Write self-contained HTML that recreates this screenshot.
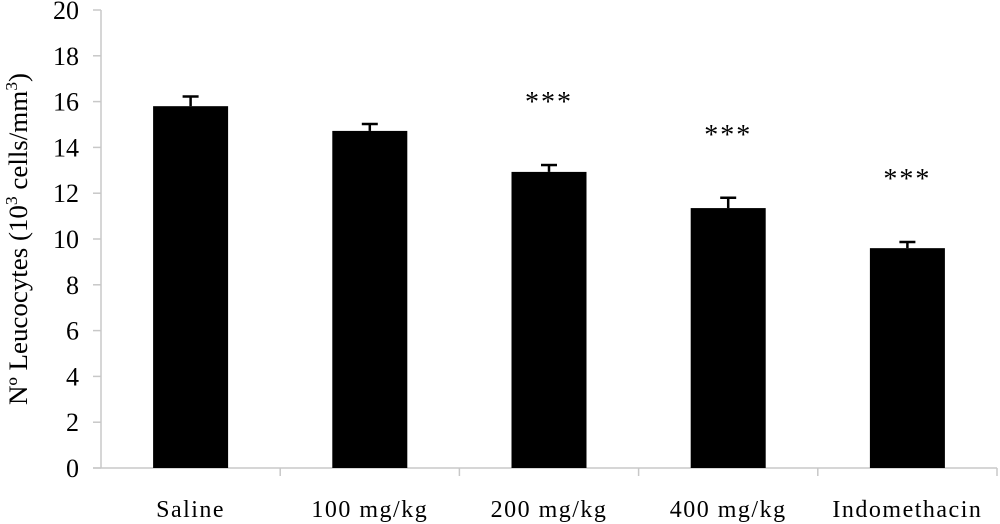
<!DOCTYPE html>
<html><head><meta charset="utf-8"><style>
body{margin:0;background:#fff;}
svg{display:block;font-family:"Liberation Serif",serif;}
</style></head><body>
<svg id="chart" width="1000" height="524">
<g id="axes"></g><g id="bars"></g>
<text transform="translate(27,239) rotate(-90)" text-anchor="middle" font-size="26" textLength="332" lengthAdjust="spacingAndGlyphs">Nº Leucocytes (10<tspan dy="-10" font-size="17">3</tspan><tspan dy="10"> cells/mm</tspan><tspan dy="-10" font-size="17">3</tspan><tspan dy="10">)</tspan></text>
</svg>
<script>
const categories=["Saline","100 mg/kg","200 mg/kg","400 mg/kg","Indomethacin"];
const values=[15.8,14.72,12.93,11.35,9.6];
const errors=[0.42,0.3,0.3,0.45,0.27];
const sig=["","","***","***","***"];
const yTicks=[0,2,4,6,8,10,12,14,16,18,20];
const NS="http://www.w3.org/2000/svg";
const x0=101,x1=997,yTop=10,yBot=468,yMax=20;
const bw=(x1-x0)/categories.length;
const y=v=>yBot-(v/yMax)*(yBot-yTop);
const xc=i=>x0+bw*(i+0.5);
function mk(tag,attrs,parent,txt){const e=document.createElementNS(NS,tag);for(const k in attrs)e.setAttribute(k,attrs[k]);if(txt!==undefined)e.textContent=txt;parent.appendChild(e);return e;}
const ax=document.getElementById('axes'),bg=document.getElementById('bars');
let e=mk('line',{x1:x0,y1:yTop,x2:x0,y2:yBot,stroke:'#c8c8c8','stroke-width':1.5},ax);


e=mk('line',{x1:93,y1:yBot,x2:x1,y2:yBot,stroke:'#c8c8c8','stroke-width':1.5},ax);


yTicks.forEach(t=>{
 mk('line',{x1:93,y1:y(t),x2:x0,y2:y(t),stroke:'#c8c8c8','stroke-width':1.5},ax);
 const l=mk('text',{x:79,y:y(t)+9,'text-anchor':'end','font-size':26},ax,t);
 
 
});
for(let i=1;i<=categories.length;i++){mk('line',{x1:x0+bw*i,y1:yBot,x2:x0+bw*i,y2:yBot+8,stroke:'#c8c8c8','stroke-width':1.5},ax);}
categories.forEach((c,i)=>{
 const cx=xc(i);
 const r=mk('rect',{x:cx-37.5,y:y(values[i]),width:75,height:yBot-y(values[i]),fill:'#000'},bg);
 
 
 const et=y(values[i]+errors[i]);
 const g=mk('g',{stroke:'#000','stroke-width':2.5},bg);
 
 
 mk('line',{x1:cx,y1:y(values[i]),x2:cx,y2:et},g);
 mk('line',{x1:cx-8,y1:et,x2:cx+8,y2:et},g);
 if(sig[i]){const s=mk('text',{x:cx,y:et-54,'text-anchor':'middle','font-size':28,'letter-spacing':'2'},bg,sig[i]);
  
  }
 const l=mk('text',{x:cx,y:517,'text-anchor':'middle','font-size':24,'letter-spacing':'1.5'},bg,c);
 
 
});
</script>
</body></html>
